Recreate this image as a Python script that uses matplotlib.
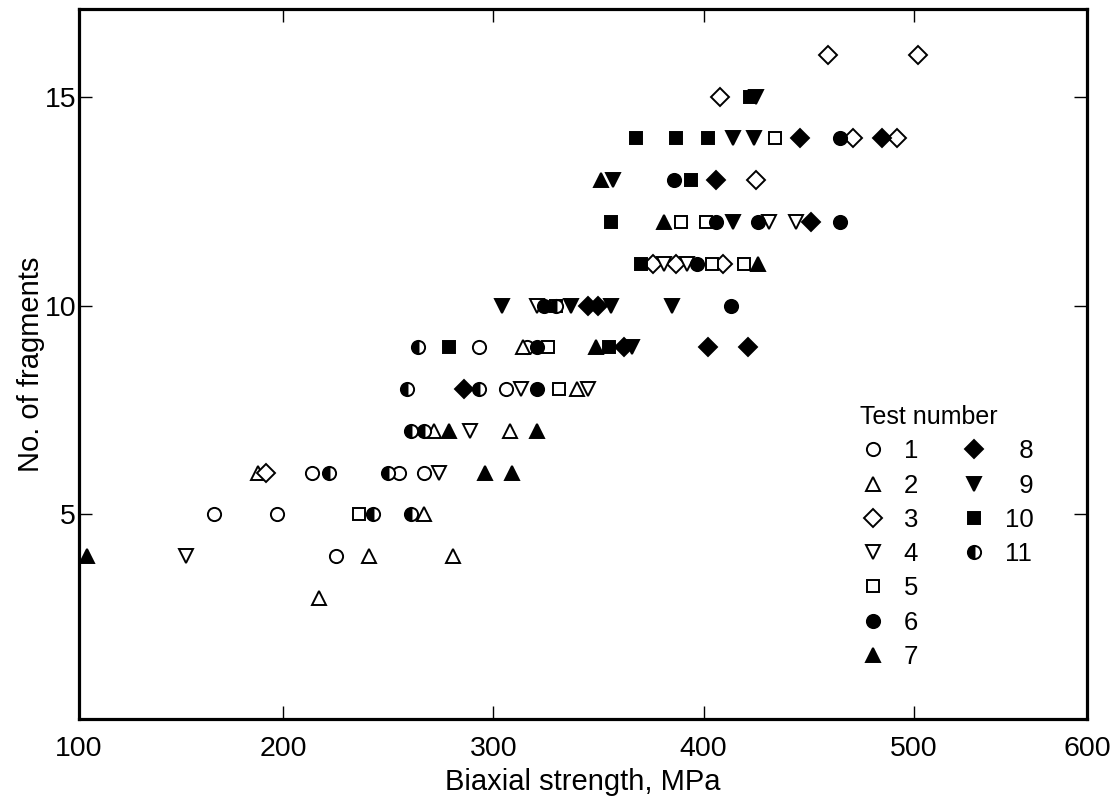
import matplotlib.pyplot as plt
from matplotlib.lines import Line2D

plt.rcParams['font.family'] = ['Liberation Sans', 'DejaVu Sans']

# biaxial strength (MPa) and number of fragments, one pair of lists per test
test1_x = [167, 197, 225, 214, 255, 267, 306, 293, 316]
test1_y = [5, 5, 4, 6, 6, 6, 8, 9, 9]
test2_x = [217, 241, 281, 267, 188, 272, 308, 314, 340]
test2_y = [3, 4, 4, 5, 6, 7, 7, 9, 8]
test3_x = [192, 376, 387, 409, 425, 471, 492, 408, 459, 502]
test3_y = [6, 11, 11, 11, 13, 14, 14, 15, 16, 16]
test4_x = [154, 274, 289, 313, 345, 321, 381, 392, 431, 444]
test4_y = [4, 6, 7, 8, 8, 10, 11, 11, 12, 12]
test5_x = [236, 326, 331, 330, 404, 419, 389, 401, 434]
test5_y = [5, 9, 8, 10, 11, 11, 12, 12, 14]
test6_x = [321, 321, 324, 413, 397, 406, 426, 465, 386, 465]
test6_y = [9, 8, 10, 10, 11, 12, 12, 12, 13, 14]
test7_x = [107, 296, 309, 279, 321, 349, 426, 381, 351]
test7_y = [4, 6, 6, 7, 7, 9, 11, 12, 13]
test8_x = [286, 345, 350, 362, 402, 421, 451, 406, 446, 485]
test8_y = [8, 10, 10, 9, 9, 9, 12, 13, 14, 14]
test9_x = [304, 337, 356, 385, 366, 414, 357, 414, 424, 425]
test9_y = [10, 10, 10, 10, 9, 12, 13, 14, 14, 15]
test10_x = [279, 355, 356, 370, 394, 368, 387, 402, 422]
test10_y = [9, 9, 12, 11, 13, 14, 14, 14, 15]
test11_x = [243, 261, 250, 222, 261, 267, 259, 293, 264, 330]
test11_y = [5, 5, 6, 6, 7, 7, 8, 8, 9, 10]

labels = ['1', '2', '3', '4', '5', '6', '7', '  8', '  9', '10', '11']
xs = [test1_x, test2_x, test3_x, test4_x, test5_x, test6_x,
      test7_x, test8_x, test9_x, test10_x, test11_x]
ys = [test1_y, test2_y, test3_y, test4_y, test5_y, test6_y,
      test7_y, test8_y, test9_y, test10_y, test11_y]

# marker, size, fill
styles = [('o', 9.5, 'open'), ('^', 10, 'open'), ('D', 9, 'open'),
          ('v', 10, 'open'), ('s', 8.5, 'open'), ('o', 9.5, 'full'),
          ('^', 10, 'full'), ('D', 9, 'full'), ('v', 10, 'full'),
          ('s', 8.5, 'full'), ('o', 9.5, 'half')]

fig = plt.figure(figsize=(11.1, 7.98), dpi=100)
ax = fig.add_axes([0.0712, 0.099, 0.9081, 0.8897])

handles = []
for x, y, (m, ms, fill), lab in zip(xs, ys, styles, labels):
    kw = dict(linestyle='none', marker=m, markersize=ms,
              markeredgecolor='black', markeredgewidth=1.4)
    if fill == 'open':
        kw.update(markerfacecolor='white')
    elif fill == 'full':
        kw.update(markerfacecolor='black')
    else:
        kw.update(markerfacecolor='black', fillstyle='left',
                  markerfacecoloralt='white')
    h, = ax.plot(x, y, label=lab, **kw)
    handles.append(h)

xlim = (103, 582.3)
ax.set_xlim(xlim)
ax.set_ylim(0.1, 17.1)
ax.set_xticks([xlim[0], 200, 300, 400, 500, xlim[1]])
ax.set_xticklabels(['100', '200', '300', '400', '500', '600'])
ax.set_yticks([5, 10, 15])

for s in ax.spines.values():
    s.set_linewidth(2.3)
ax.tick_params(direction='in', length=9.5, width=1.0, labelsize=20.5,
               top=True, right=True)
ax.tick_params(axis='x', pad=12)
ax.tick_params(axis='y', pad=2)

ax.set_xlabel('Biaxial strength, MPa', fontsize=21, labelpad=4.5)
ax.set_ylabel('No. of fragments', fontsize=21, labelpad=0)

blank = [Line2D([], [], linestyle='none') for _ in range(3)]
leg = ax.legend(handles + blank, labels + [''] * 3, ncol=2,
                title='Test number', title_fontsize=18, fontsize=18.5,
                frameon=False, numpoints=1, handlelength=1.0,
                handletextpad=0.7, columnspacing=1.69, labelspacing=0.4,
                borderpad=0, borderaxespad=0, alignment='left',
                loc='upper left', bbox_to_anchor=(860 / 1110, 1 - 405 / 798),
                bbox_transform=fig.transFigure)

fig.savefig('out.png', dpi=100)
